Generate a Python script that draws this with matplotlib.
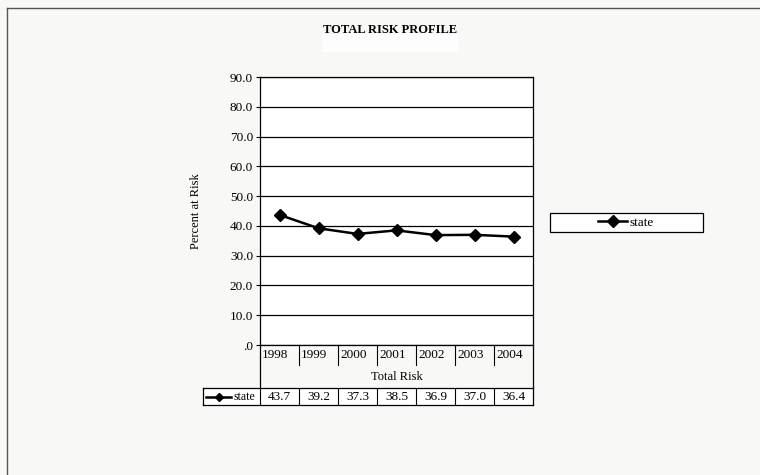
import matplotlib.pyplot as plt
from matplotlib.lines import Line2D
from matplotlib.patches import Rectangle
import matplotlib.transforms as mtransforms

years = ["1998", "1999", "2000", "2001", "2002", "2003", "2004"]
state = [43.7, 39.2, 37.3, 38.5, 36.9, 37.0, 36.4]
yticks = [0, 10, 20, 30, 40, 50, 60, 70, 80, 90]
ytick_labels = [".0", "10.0", "20.0", "30.0", "40.0", "50.0", "60.0", "70.0", "80.0", "90.0"]

plt.rcParams["font.family"] = ["Liberation Serif", "DejaVu Serif"]
W, H = 760, 475


def fx(px):
    return px / W


def fy(py):
    return 1 - py / H


fig = plt.figure(figsize=(7.6, 4.75), dpi=100)
fig.patch.set_facecolor("#f8f8f7")

# outer frame of the chart object
fig.add_artist(Line2D([fx(7), fx(760)], [fy(8), fy(8)], color="#555555", lw=1.0))
fig.add_artist(Line2D([fx(7), fx(7)], [fy(8), fy(475)], color="#555555", lw=1.0))

# title (with the blank white box under it)
fig.add_artist(Rectangle((fx(322), fy(52)), fx(136), 18 / H, facecolor="#fdfdfd",
                         edgecolor="none"))
fig.text(fx(390), fy(30), "TOTAL RISK PROFILE", ha="center", va="center",
         fontsize=9, fontweight="bold")

# plot area
left, right, top, bottom = 260, 533, 77, 345
ph = bottom - top
ax = fig.add_axes([fx(left), fy(bottom), fx(right - left), ph / H])
ax.set_facecolor("white")
n = len(years)
x = list(range(n))
ax.plot(x, state, color="black", lw=1.8, marker="D", markersize=6, label="state")
ax.set_xlim(-0.5, n - 0.5)
ax.set_ylim(0, 90)
ax.set_yticks(yticks)
ax.set_yticklabels(ytick_labels, fontsize=9.5)
ax.yaxis.grid(True, color="black", lw=0.9)
ax.set_axisbelow(True)
ax.tick_params(axis="y", length=3, width=0.8, pad=2)
ax.set_xticks([])
for s in ax.spines.values():
    s.set_color("black")
    s.set_linewidth(0.9)
ax.set_ylabel("Percent at Risk", fontsize=9, labelpad=20)

# category labels and separators below the axis
trans = mtransforms.blended_transform_factory(ax.transData, ax.transAxes)
sep_depth = -(365 - bottom) / ph
edge_depth = -(388 - bottom) / ph
for i in range(n):
    ax.text(i - 0.45, -(355 - bottom) / ph, years[i], transform=trans,
            ha="left", va="center", fontsize=9.5)
for i in range(n - 1):
    ax.add_artist(Line2D([i + 0.5, i + 0.5], [0, sep_depth], transform=trans,
                         color="black", lw=0.8, clip_on=False))
for xe in (-0.5, n - 0.5):
    ax.add_artist(Line2D([xe, xe], [0, edge_depth], transform=trans,
                         color="black", lw=0.9, clip_on=False))
ax.text(0.5, -(377 - bottom) / ph, "Total Risk", transform=ax.transAxes,
        ha="center", va="center", fontsize=9)

# data table row
tl, tt, tb = 203, 388, 405
cat_w = (right - left) / n
lab_w = (left - tl) / cat_w
tax = fig.add_axes([fx(tl), fy(tb), fx(right - tl), (tb - tt) / H])
tax.set_xlim(-0.5 - lab_w, n - 0.5)
tax.set_ylim(0, 1)
tax.set_xticks([])
tax.set_yticks([])
tax.set_facecolor("white")
for s in tax.spines.values():
    s.set_color("black")
    s.set_linewidth(0.9)
for i in range(n):
    tax.text(i, 0.5, f"{state[i]:.1f}", ha="center", va="center", fontsize=9.5)
    tax.axvline(i - 0.5, color="black", lw=0.8)
k0 = -0.5 - lab_w + 0.08
tax.plot([k0, k0 + 0.65], [0.5, 0.5], color="black", lw=1.8)
tax.plot([k0 + 0.325], [0.5], color="black", marker="D", markersize=4.5)
tax.text(k0 + 0.7, 0.45, "state", ha="left", va="center", fontsize=8.5)

# legend box
lx0, lx1, ly0, ly1 = 550, 703, 213, 232
fig.add_artist(Rectangle((fx(lx0), fy(ly1)), fx(lx1 - lx0), (ly1 - ly0) / H,
                         facecolor="white", edgecolor="black", lw=0.9))
handles, labels = ax.get_legend_handles_labels()
fig.legend(handles, labels, loc="center", bbox_to_anchor=(fx(626), fy(222.5)),
           frameon=False, fontsize=9.5, handlelength=2.2, handletextpad=0.2,
           borderpad=0.1)

fig.savefig("out.png", dpi=100, facecolor=fig.get_facecolor())
